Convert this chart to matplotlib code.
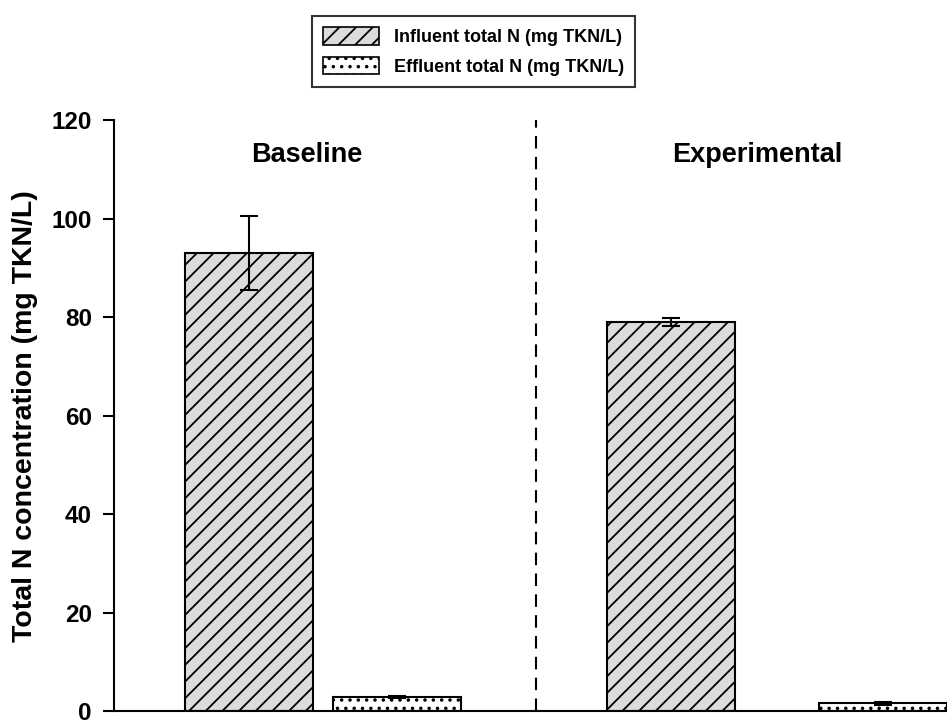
import matplotlib
matplotlib.use("Agg")
import matplotlib.pyplot as plt
from matplotlib.patches import Patch

plt.rcParams['font.family'] = ['Liberation Sans', 'DejaVu Sans']
plt.rcParams['font.weight'] = 'bold'
plt.rcParams['hatch.linewidth'] = 1.3

groups = ["Baseline", "Experimental"]
series = ["Influent total N (mg TKN/L)", "Effluent total N (mg TKN/L)"]
influent = [93.0, 79.0]
influent_err = [7.6, 0.8]
effluent = [2.8, 1.6]
effluent_err = [0.2, 0.3]

# layout positions (bar width = 1)
infl_x = [1.055, 4.35]
effl_x = [2.21, 6.01]
group_label_x = [1.51, 5.03]
divider_x = 3.30

fig = plt.figure(figsize=(9.47, 7.2), dpi=100)
ax = fig.add_axes([114/947, 1-711/720, 1-114/947, (711-120)/720])

ax.bar(infl_x, influent, width=1.0, color='#dcdcdc', edgecolor='black',
       linewidth=1.5, hatch='//', zorder=2)
ax.bar(effl_x, effluent, width=1.0, color='white', edgecolor='black',
       linewidth=1.5, hatch='..', zorder=2)
ax.errorbar(infl_x, influent, yerr=influent_err, fmt='none', ecolor='black',
            elinewidth=1.5, capsize=6.5, capthick=1.5, zorder=3)
ax.errorbar(effl_x, effluent, yerr=effluent_err, fmt='none', ecolor='black',
            elinewidth=1.5, capsize=6.5, capthick=1.5, zorder=3)

ax.axvline(divider_x, color='black', linestyle=(0, (6, 4)), linewidth=1.5, zorder=1)

for gx, g in zip(group_label_x, groups):
    ax.text(gx, 111.5, g, ha='center', va='baseline', fontsize=19.5, fontweight='bold')

ax.set_xlim(0, 6.51)
ax.set_ylim(0, 120)
ax.set_yticks([0, 20, 40, 60, 80, 100, 120])
ax.set_xticks([])
ax.tick_params(axis='y', direction='out', length=8, width=1.5, labelsize=17.5, pad=8)
for lab in ax.get_yticklabels():
    lab.set_fontweight('bold')
ax.spines['top'].set_visible(False)
ax.spines['right'].set_visible(False)
ax.spines['left'].set_linewidth(1.5)
ax.spines['bottom'].set_linewidth(1.5)
ax.set_ylabel("Total N concentration (mg TKN/L)", fontsize=20.5, fontweight='bold')
ax.yaxis.set_label_coords(-76/833, (711-416)/591)

handles = [Patch(facecolor='#dcdcdc', edgecolor='black', hatch='//', linewidth=1.2),
           Patch(facecolor='white', edgecolor='black', hatch='..', linewidth=1.2)]
leg = fig.legend(handles, series, loc='center', bbox_to_anchor=(473.5/947, 1-51.5/720),
                 fontsize=13, frameon=True, fancybox=False, handlelength=3.15,
                 handleheight=1.1, labelspacing=0.6, borderpad=0.6, handletextpad=0.83)
leg.get_frame().set_edgecolor('black')
leg.get_frame().set_linewidth(1.5)
for t in leg.get_texts():
    t.set_fontweight('bold')

fig.savefig("out.png", dpi=100)
